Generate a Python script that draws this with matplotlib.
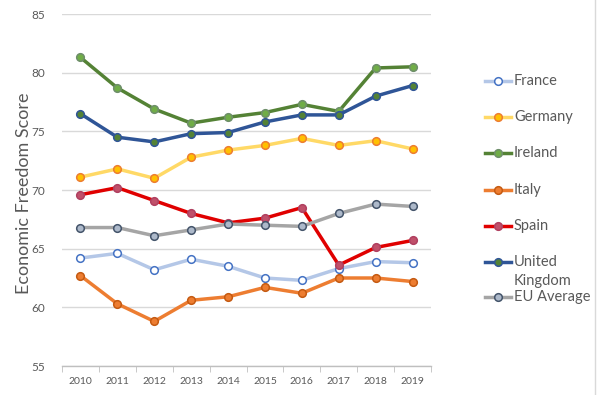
import matplotlib
matplotlib.use("Agg")
import matplotlib.pyplot as plt
from matplotlib.lines import Line2D
import numpy as np

plt.rcParams['font.family'] = ['Lato', 'DejaVu Sans']

years = ["2010", "2011", "2012", "2013", "2014", "2015", "2016", "2017", "2018", "2019"]
france = [64.2, 64.6, 63.2, 64.1, 63.5, 62.5, 62.3, 63.3, 63.9, 63.8]
germany = [71.1, 71.8, 71.0, 72.8, 73.4, 73.8, 74.4, 73.8, 74.2, 73.5]
ireland = [81.3, 78.7, 76.9, 75.7, 76.2, 76.6, 77.3, 76.7, 80.4, 80.5]
italy = [62.7, 60.3, 58.8, 60.6, 60.9, 61.7, 61.2, 62.5, 62.5, 62.2]
spain = [69.6, 70.2, 69.1, 68.0, 67.2, 67.6, 68.5, 63.6, 65.1, 65.7]
uk = [76.5, 74.5, 74.1, 74.8, 74.9, 75.8, 76.4, 76.4, 78.0, 78.9]
eu_avg = [66.8, 66.8, 66.1, 66.6, 67.1, 67.0, 66.9, 68.0, 68.8, 68.6]

labels = ["France", "Germany", "Ireland", "Italy", "Spain", "United\nKingdom", "EU Average"]
series = [france, germany, ireland, italy, spain, uk, eu_avg]
styles = [
    dict(color="#B4C7E7", mfc="#FFFFFF", mec="#4472C4"),
    dict(color="#FFD966", mfc="#FFC000", mec="#ED7D31"),
    dict(color="#548235", mfc="#70AD47", mec="#6E8E6A"),
    dict(color="#ED7D31", mfc="#ED7D31", mec="#C55A11"),
    dict(color="#E00000", mfc="#C0506A", mec="#B04060"),
    dict(color="#2F5597", mfc="#548235", mec="#2F5597"),
    dict(color="#A5A5A5", mfc="#ADB9CA", mec="#44546A"),
]

fig = plt.figure(figsize=(6.0, 3.95), dpi=100)
ax = fig.add_axes([62/600, 1-366/395, (431-62)/600, (366-14)/395])

x = np.arange(len(years))
for vals, st in zip(series, styles):
    ax.plot(x, vals, color=st["color"], lw=2.5, marker="o", ms=5.5,
            mfc=st["mfc"], mec=st["mec"], mew=1.1, solid_capstyle="round", zorder=3)

ax.set_ylim(55, 85)
ax.set_xlim(-0.5, len(years) - 0.5)
ax.set_yticks([55, 60, 65, 70, 75, 80, 85])
ax.yaxis.grid(True, color="#D9D9D9", lw=1)
ax.set_axisbelow(True)
for s in ["top", "right", "left"]:
    ax.spines[s].set_visible(False)
ax.spines["bottom"].set_color("#BFBFBF")
ax.spines["bottom"].set_linewidth(1)
ax.set_xticks(x)
ax.set_xticklabels(years)
ax.set_xticks(np.arange(-0.5, len(years)), minor=True)
ax.tick_params(axis="x", which="major", length=0, labelsize=7.5, colors="#595959", pad=8)
ax.tick_params(axis="x", which="minor", length=4, color="#BFBFBF")
ax.tick_params(axis="y", length=0, labelsize=8.5, colors="#595959", pad=12)
ax.set_ylabel("Economic Freedom Score", fontsize=13, color="#595959")
ax.yaxis.set_label_coords(-0.082, 0.49)

# legend drawn manually to mimic the original layout
leg_y = [81, 117, 153, 190, 226, 262, 297]
for lab, st, yp in zip(labels, styles, leg_y):
    yf = 1 - yp/395
    fig.add_artist(Line2D([485/600, 511/600], [yf, yf], color=st["color"], lw=2.5,
                          transform=fig.transFigure))
    fig.add_artist(Line2D([498/600], [yf], marker="o", ms=5.5, mfc=st["mfc"],
                          mec=st["mec"], mew=1.1, transform=fig.transFigure))
    for i, line in enumerate(lab.split("\n")):
        fig.text(514/600, yf - i*19/395, line, fontsize=10.5, color="#595959",
                 va="center", transform=fig.transFigure)

fig.add_artist(Line2D([595/600, 595/600], [0, 1], color="#D9D9D9", lw=1, transform=fig.transFigure))

fig.savefig("out.png", dpi=100, facecolor="white")
